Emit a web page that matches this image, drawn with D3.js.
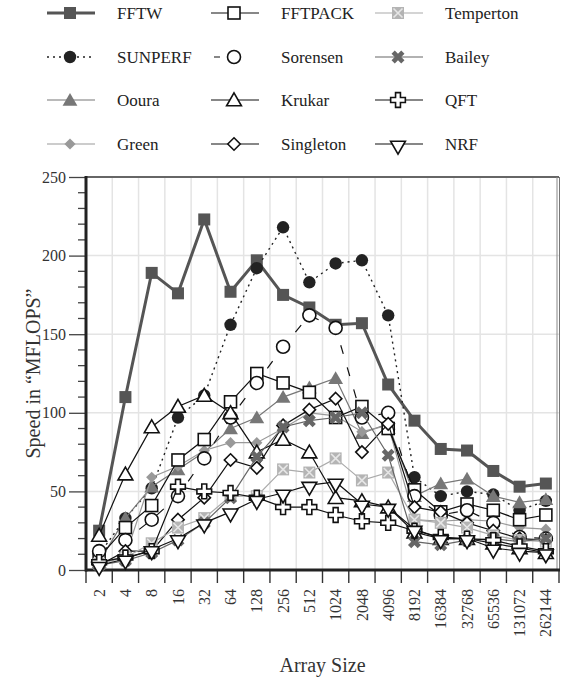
<!DOCTYPE html>
<html>
<head>
<meta charset="utf-8">
<script src="https://cdn.jsdelivr.net/npm/d3@7"></script>
<style>
  body { margin: 0; background: #fff; }
  svg text { font-family: "Liberation Serif", "DejaVu Serif", "Noto Serif", "Times New Roman", serif !important; }
</style>
</head>
<body>
<svg id="chart" width="578" height="679"></svg>
<script>
// Array sizes (x categories)
const sizes = ["2", "4", "8", "16", "32", "64", "128", "256", "512", "1024", "2048", "4096",
               "8192", "16384", "32768", "65536", "131072", "262144"]

// Speed in MFLOPS
const fftw      = [25, 110, 189, 176, 223, 177, 197, 175, 167, 156, 157, 118, 95, 77, 76, 63, 53, 55]
const fftpack   = [8, 27, 41, 70, 83, 107, 125, 119, 113, 97, 104, 90, 51, 37, 42, 38, 32, 35]
const temperton = [4, 8, 17, 27, 33, 47, 47, 64, 62, 71, 57, 62, 32, 30, 27, 22, 19, 18]
const sunperf   = [10, 33, 52, 97, 111, 156, 192, 218, 183, 195, 197, 162, 59, 47, 50, 48, 38, 44]
const sorensen  = [12, 19, 32, 47, 71, 97, 119, 142, 162, 154, 97, 100, 47, 35, 38, 30, 21, 20]
const bailey    = [3, 6, 11, 19, 30, 46, 72, 91, 95, 97, 100, 73, 18, 16, 19, 20, 18, 20]
const ooura     = [5, 33, 53, 64, 75, 90, 97, 110, 116, 122, 87, 93, 47, 55, 58, 47, 43, 45]
const krukar    = [22, 61, 91, 104, 111, 100, 75, 83, 75, 46, 44, 40, 24, 20, 20, 17, 14, 11]
const qft       = [5, 8, 12, 53, 50, 49, 46, 40, 40, 35, 31, 30, 25, 21, 20, 19, 15, 12]
const green     = [4, 9, 59, 66, 76, 81, 81, 90, 100, 98, 88, 92, 32, 31, 32, 31, 27, 26]
const singleton = [3, 12, 12, 32, 46, 70, 65, 92, 102, 109, 75, 93, 40, 37, 30, 25, 20, 19]
const nrf       = [3, 7, 13, 20, 30, 37, 45, 49, 54, 56, 42, 40, 26, 20, 20, 14, 12, 11]

const yTicks = [0, 50, 100, 150, 200, 250]

// series styling (legend is laid out row by row, 3 per row)
const series = [
    {name: "FFTW", values: fftw, color: "#555", width: 3, dash: null, marker: "square", fill: "#555"},
    {name: "FFTPACK", values: fftpack, color: "#111", width: 1.2, dash: null, marker: "square", fill: "#fff"},
    {name: "Temperton", values: temperton, color: "#aaa", width: 1.2, dash: null, marker: "xbox", fill: "#b4b4b4"},
    {name: "SUNPERF", values: sunperf, color: "#222", width: 1.4, dash: "2,4", marker: "circle", fill: "#222"},
    {name: "Sorensen", values: sorensen, color: "#111", width: 1.2, dash: "9,14", marker: "circle", fill: "#fff"},
    {name: "Bailey", values: bailey, color: "#666", width: 1.2, dash: null, marker: "x", fill: "#666"},
    {name: "Ooura", values: ooura, color: "#777", width: 1.2, dash: null, marker: "triangle", fill: "#777"},
    {name: "Krukar", values: krukar, color: "#111", width: 1.2, dash: null, marker: "triangle", fill: "#fff"},
    {name: "QFT", values: qft, color: "#111", width: 1.2, dash: null, marker: "cross", fill: "#fff"},
    {name: "Green", values: green, color: "#999", width: 1.2, dash: null, marker: "diamond", fill: "#999"},
    {name: "Singleton", values: singleton, color: "#111", width: 1.2, dash: null, marker: "diamond", fill: "#fff"},
    {name: "NRF", values: nrf, color: "#111", width: 1.2, dash: null, marker: "down", fill: "#fff"}
]

const svg = d3.select("#chart")
const margin = {top: 177, right: 19, bottom: 109, left: 86}
const width = 578 - margin.left - margin.right
const height = 679 - margin.top - margin.bottom

const x = d3.scaleBand().domain(sizes).range([margin.left, margin.left + width])
const y = d3.scaleLinear().domain([0, 250]).range([margin.top + height, margin.top])

// grid
const grid = svg.append("g")
grid.selectAll("line.v")
    .data(sizes.slice(1))
    .join("line")
    .attr("x1", d => x(d)).attr("x2", d => x(d))
    .attr("y1", margin.top).attr("y2", margin.top + height)
    .attr("stroke", "#e4e4e4").attr("stroke-width", 1.5)
grid.selectAll("line.h")
    .data(yTicks.slice(1, -1))
    .join("line")
    .attr("x1", margin.left).attr("x2", margin.left + width)
    .attr("y1", d => y(d)).attr("y2", d => y(d))
    .attr("stroke", "#e4e4e4").attr("stroke-width", 1.5)

// frame top / right
svg.append("line")
   .attr("x1", margin.left).attr("x2", margin.left + width)
   .attr("y1", margin.top).attr("y2", margin.top)
   .attr("stroke", "#666").attr("stroke-width", 2)
svg.append("line")
   .attr("x1", margin.left + width - 2).attr("x2", margin.left + width - 2)
   .attr("y1", margin.top).attr("y2", margin.top + height)
   .attr("stroke", "#888").attr("stroke-width", 1)
svg.append("line")
   .attr("x1", margin.left + width + 0.5).attr("x2", margin.left + width + 0.5)
   .attr("y1", margin.top).attr("y2", margin.top + height)
   .attr("stroke", "#777").attr("stroke-width", 1)

// Y axis with minor ticks
const yMinor = d3.range(0, 251, 10).filter(v => v % 50 !== 0)
svg.append("g").selectAll("line")
   .data(yMinor)
   .join("line")
   .attr("x1", margin.left - 8).attr("x2", margin.left)
   .attr("y1", d => y(d)).attr("y2", d => y(d))
   .attr("stroke", "#444").attr("stroke-width", 1.3)

const yAxis = svg.append("g")
    .attr("transform", `translate(${margin.left}, 0)`)
    .call(d3.axisLeft(y).tickValues(yTicks).tickSize(17).tickPadding(3))
yAxis.attr("font-family", null).attr("font-size", 16)
yAxis.select(".domain").remove()
yAxis.selectAll("line").attr("stroke", "#444").attr("stroke-width", 1.3)
yAxis.selectAll("text").attr("fill", "#333")

// X axis
const xAxis = svg.append("g")
    .attr("transform", `translate(0, ${margin.top + height})`)
    .call(d3.axisBottom(x).tickSize(0).tickPadding(0))
xAxis.attr("font-family", null).attr("font-size", 16)
xAxis.select(".domain").remove()
xAxis.selectAll("text")
     .attr("fill", "#333")
     .attr("text-anchor", "end")
     .attr("transform", "translate(0, 19) rotate(-90)")
     .attr("x", 0).attr("y", 0).attr("dy", "0.35em")

const boundaries = sizes.map(d => x(d)).concat([margin.left + width])
svg.append("g").selectAll("line")
   .data(boundaries)
   .join("line")
   .attr("x1", d => d).attr("x2", d => d)
   .attr("y1", margin.top + height).attr("y2", margin.top + height + 13)
   .attr("stroke", "#333").attr("stroke-width", 1.4)

// axis lines
svg.append("line")
   .attr("x1", margin.left).attr("x2", margin.left)
   .attr("y1", margin.top - 1).attr("y2", margin.top + height + 1.5)
   .attr("stroke", "#222").attr("stroke-width", 3)
svg.append("line")
   .attr("x1", margin.left - 1).attr("x2", margin.left + width + 1)
   .attr("y1", margin.top + height).attr("y2", margin.top + height)
   .attr("stroke", "#222").attr("stroke-width", 3)

// titles
svg.append("text")
   .attr("text-anchor", "middle")
   .attr("transform", `translate(33, ${margin.top + height / 2}) rotate(-90)`)
   .attr("dy", "0.35em")
   .attr("font-size", 20)
   .attr("fill", "#333")
   .text("Speed in “MFLOPS”")
svg.append("text")
   .attr("text-anchor", "middle")
   .attr("x", margin.left + width / 2)
   .attr("y", 672)
   .attr("font-size", 20)
   .attr("fill", "#333")
   .text("Array Size")

// markers
function drawMarker(g, s, cx, cy) {
    const m = g.append("g").attr("transform", `translate(${cx}, ${cy})`)
    const stroke = s.fill === "#fff" ? "#111" : s.fill
    if (s.marker === "square") {
        m.append("rect").attr("x", -6).attr("y", -6).attr("width", 12).attr("height", 12)
         .attr("fill", s.fill).attr("stroke", stroke).attr("stroke-width", s.fill === "#fff" ? 1.6 : 0)
    } else if (s.marker === "xbox") {
        m.append("rect").attr("x", -6).attr("y", -6).attr("width", 12).attr("height", 12)
         .attr("fill", s.fill)
        m.append("path").attr("d", "M-4.5,-4.5L4.5,4.5M-4.5,4.5L4.5,-4.5")
         .attr("stroke", "#e6e6e6").attr("stroke-width", 1.6)
    } else if (s.marker === "circle") {
        m.append("circle").attr("r", s.fill === "#fff" ? 6.5 : 6.2)
         .attr("fill", s.fill).attr("stroke", stroke).attr("stroke-width", s.fill === "#fff" ? 1.6 : 0)
    } else if (s.marker === "x") {
        m.append("path").attr("d", d3.symbol(d3.symbolCross, 105)())
         .attr("transform", "rotate(45)").attr("fill", s.fill)
    } else if (s.marker === "triangle" || s.marker === "down") {
        m.append("path").attr("d", d3.symbol(d3.symbolTriangle, 95)())
         .attr("transform", s.marker === "down" ? "rotate(180) translate(0,-1.5)" : "translate(0,1.5)")
         .attr("fill", s.fill).attr("stroke", stroke).attr("stroke-width", s.fill === "#fff" ? 1.6 : 0)
    } else if (s.marker === "cross") {
        m.append("path").attr("d", d3.symbol(d3.symbolCross, 120)())
         .attr("fill", s.fill).attr("stroke", stroke).attr("stroke-width", 1.6)
    } else if (s.marker === "diamond") {
        const r = s.fill === "#fff" ? 6.2 : 5.6
        m.append("path").attr("d", `M0,${-r}L${r},0L0,${r}L${-r},0Z`)
         .attr("fill", s.fill).attr("stroke", stroke).attr("stroke-width", s.fill === "#fff" ? 1.6 : 0)
    }
}

// plot series
const line = d3.line()
    .x((d, i) => x(sizes[i]) + x.bandwidth() / 2)
    .y(d => y(d))

const plot = svg.append("g")
const order = [0, 3, 6, 9, 1, 4, 7, 10, 2, 5, 8, 11]
for (let k = 0; k < order.length; k++) {
    const s = series[order[k]]
    plot.append("path")
        .datum(s.values)
        .attr("d", line)
        .attr("fill", "none")
        .attr("stroke", s.color)
        .attr("stroke-width", s.width)
        .attr("stroke-dasharray", s.dash)
    for (let i = 0; i < s.values.length; i++)
        drawMarker(plot, s, x(sizes[i]) + x.bandwidth() / 2, y(s.values[i]))
}

// legend
const legend = svg.append("g")
const colX = [47, 211, 375]
const rowY = [13, 57, 100, 144]
for (let i = 0; i < series.length; i++) {
    const s = series[i]
    const lx = colX[i % 3]
    const ly = rowY[Math.floor(i / 3)]
    const lineEl = legend.append("line")
        .attr("x1", lx).attr("x2", lx + 48)
        .attr("y1", ly).attr("y2", ly)
        .attr("stroke", s.color)
        .attr("stroke-width", s.width)
    if (s.dash === "2,4") lineEl.attr("stroke-dasharray", "2,4")
    if (s.dash === "9,14") lineEl.attr("stroke-dasharray", "6,8,6,30").attr("stroke-dashoffset", -3)
    drawMarker(legend, s, lx + 23, ly)
    legend.append("text")
          .attr("x", lx + 70)
          .attr("y", ly)
          .attr("dy", "0.35em")
          .attr("font-size", 17)
          .attr("fill", "#222")
          .text(s.name)
}
</script>
</body>
</html>
